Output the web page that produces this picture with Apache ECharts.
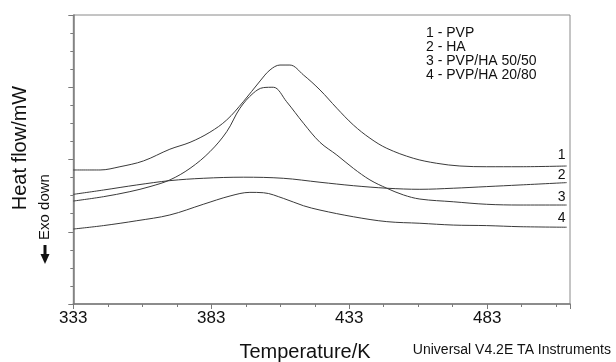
<!DOCTYPE html>
<html>
<head>
<meta charset="utf-8">
<script src="https://cdn.jsdelivr.net/npm/echarts@6/dist/echarts.min.js"></script>
<style>
html,body{margin:0;padding:0;background:#fff;}
#c{width:616px;height:362px;}
</style>
</head>
<body>
<div id="c"></div>
<script>
// Temperature (K) / heat flow (arbitrary axis units, 0..16)
const T0 = 333;
const TMAX = 513;
const xTickLabels = [333, 383, 433, 483];
const curvePVP = [[333,7.42],[342.7,7.42],[349.9,7.60],[358.4,7.92],[368.0,8.57],[375.3,8.95],[382.5,9.51],[388.6,10.19],[394.6,11.2],[400.7,12.35],[404.3,12.96],[407.9,13.23],[411.5,13.23],[416.4,12.68],[422.4,11.85],[428.5,10.84],[434.5,9.91],[440.5,9.18],[446.6,8.62],[456.2,8.07],[464.7,7.79],[473.1,7.64],[482.8,7.60],[494.9,7.60],[511.8,7.64]];
const curveHA = [[333,6.07],[343.9,6.31],[356.0,6.59],[368.0,6.83],[380.1,6.96],[394.6,7.02],[409.1,6.96],[422.4,6.74],[434.5,6.55],[446.6,6.41],[458.6,6.35],[470.7,6.41],[482.8,6.50],[494.9,6.59],[511.8,6.72]];
const curve5050 = [[333,5.70],[343.9,5.94],[353.5,6.22],[360.8,6.50],[368.0,6.87],[375.3,7.51],[382.5,8.43],[388.6,9.54],[393.4,10.84],[398.2,11.67],[401.9,11.98],[405.5,12.0],[410.3,11.2],[416.4,10.01],[422.4,8.95],[428.5,8.25],[434.5,7.51],[440.5,6.87],[446.6,6.41],[452.6,6.04],[458.6,5.81],[470.7,5.66],[482.8,5.52],[494.9,5.48],[511.8,5.48]];
const curve2080 = [[333,4.15],[343.9,4.34],[356.0,4.61],[368.0,4.93],[380.1,5.52],[389.8,5.98],[397.0,6.18],[401.9,6.16],[409.1,5.85],[416.4,5.44],[422.4,5.20],[434.5,4.83],[446.6,4.56],[458.6,4.47],[470.7,4.37],[482.8,4.34],[494.9,4.28],[511.8,4.25]];
const seriesNames = ['1', '2', '3', '4'];
const legendLines = ['1 - PVP', '2 - HA', '3 - PVP/HA 50/50', '4 - PVP/HA 20/80'];

const FONT = '"Liberation Sans", Arial, Helvetica, sans-serif';
const AX = '#7a7a7a';
const LINE = '#3a3a3a';

function shift(arr){ return arr.map(p => [p[0] - T0, p[1]]); }

const curves = [curvePVP, curveHA, curve5050, curve2080];
const labelOffsets = [[-17,-11],[-17,-7],[-17,-8],[-17,-9]];

const chart = echarts.init(document.getElementById('c'), null, {renderer:'canvas'});
const option = {
  animation:false,
  backgroundColor:'#fff',
  grid:{left:73.3, top:15, right:46, bottom:58, show:true, borderColor:'#8a8a8a', borderWidth:1, backgroundColor:'transparent'},
  xAxis:[{
    type:'value', min:0, max:TMAX - T0, interval:12.5,
    axisLine:{show:true, onZero:false, lineStyle:{color:AX, width:1.5}},
    axisTick:{show:true, length:3, lineStyle:{color:AX}},
    splitLine:{show:false},
    axisLabel:{show:true, margin:6, fontFamily:FONT, fontSize:17, color:'#111',
      formatter:v => { const t = Math.round(v + T0); return xTickLabels.indexOf(t) >= 0 && Math.abs(v + T0 - t) < 1e-6 ? String(t) : ''; }}
  },{
    type:'value', min:0, max:TMAX - T0, interval:50, position:'bottom',
    axisLine:{show:false}, axisTick:{show:true, length:5, lineStyle:{color:AX}},
    axisLabel:{show:false}, splitLine:{show:false}
  }],
  yAxis:{
    type:'value', min:0, max:16, interval:4,
    axisLine:{show:true, onZero:false, lineStyle:{color:AX, width:1.5}},
    axisTick:{show:true, length:5, lineStyle:{color:AX}},
    minorTick:{show:true, splitNumber:4, length:3, lineStyle:{color:AX}},
    axisLabel:{show:false}, splitLine:{show:false}
  },
  series: curves.map((c, i) => ({
    type:'line', name:seriesNames[i], data:shift(c), smooth:0.35, showSymbol:false, symbol:'none',
    lineStyle:{color:LINE, width:1},
    endLabel:{show:true, formatter:seriesNames[i], fontFamily:FONT, fontSize:14, color:'#111', offset:labelOffsets[i]}
  })),
  graphic:[
    {type:'text', left:426, top:26, style:{text:legendLines.join('\n'), font:'14px ' + FONT, fill:'#111', lineHeight:14}},
    {type:'text', x:20, y:148, rotation:Math.PI/2, style:{text:'Heat flow/mW', font:'20px ' + FONT, fill:'#111', align:'center', verticalAlign:'middle'}},
    {type:'text', x:45, y:207, rotation:Math.PI/2, style:{text:'Exo down', font:'15px ' + FONT, fill:'#111', align:'center', verticalAlign:'middle'}},
    {type:'line', shape:{x1:45, y1:245, x2:45, y2:255}, style:{stroke:'#111', lineWidth:3}},
    {type:'polygon', shape:{points:[[40.5,254],[49.5,254],[45,264]]}, style:{fill:'#111'}},
    {type:'text', x:305, y:352, style:{text:'Temperature/K', font:'20px ' + FONT, fill:'#111', align:'center', verticalAlign:'middle'}},
    {type:'text', x:611, y:350, style:{text:'Universal V4.2E TA Instruments', font:'14px ' + FONT, fill:'#111', align:'right', verticalAlign:'middle'}}
  ]
};
chart.setOption(option);
</script>
</body>
</html>
